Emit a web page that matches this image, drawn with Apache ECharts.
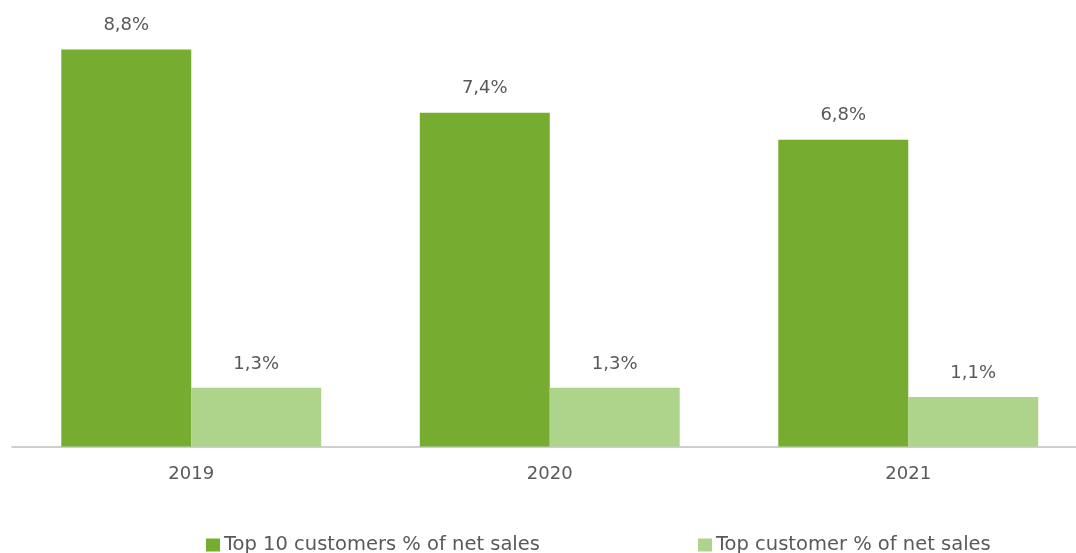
<!DOCTYPE html>
<html>
<head>
<meta charset="utf-8">
<script src="https://cdn.jsdelivr.net/npm/echarts@6/dist/echarts.min.js"></script>
<style>
  html, body { margin: 0; padding: 0; background: #ffffff; overflow: hidden; }
  /* the plot runs a little past the right edge of the page */
  #chart { width: 1088px; height: 553px; }
</style>
</head>
<body>
<div id="chart"></div>
<script>
// Customer concentration, share of net sales (%)
const years = ['2019', '2020', '2021'];
const top10Customers = [8.8, 7.4, 6.8];
const topCustomer = [1.3, 1.3, 1.1];
const seriesNames = ['Top 10 customers % of net sales', 'Top customer % of net sales'];

const FONT = '"DejaVu Sans", "Noto Sans", sans-serif';
const TEXT = '#595959';

const fmt = p => p.value.toFixed(1).replace('.', ',') + '%';

const legendBase = {
  top: 530,
  padding: [5, 0, 5, 0],
  icon: 'rect', itemWidth: 14, itemHeight: 13, itemGap: 6,
  textStyle: { color: TEXT, fontSize: 19.5, fontFamily: FONT, padding: [0, 0, 0, -1] }
};

const chart = echarts.init(document.getElementById('chart'));
chart.setOption({
  animation: false,
  textStyle: { fontFamily: FONT, color: TEXT },
  grid: { left: 12, right: 0.5, top: 40.5, bottom: 106.5, containLabel: false },
  xAxis: {
    type: 'category',
    data: years,
    axisLine: { lineStyle: { color: '#bfbfbf', width: 1.5 } },
    axisTick: { show: false },
    axisLabel: { color: TEXT, fontSize: 18, fontFamily: FONT, margin: 19 }
  },
  yAxis: {
    type: 'value',
    min: 0,
    max: 9,
    show: false,
    splitLine: { show: false }
  },
  legend: [
    Object.assign({ data: [seriesNames[0]], left: 206 }, legendBase),
    Object.assign({ data: [seriesNames[1]], left: 698 }, legendBase)
  ],
  series: [
    {
      name: seriesNames[0],
      type: 'bar',
      data: top10Customers,
      barGap: '0%',
      barCategoryGap: '27.5%',
      itemStyle: { color: '#76ac2f' },
      label: { show: true, position: 'top', distance: 15, color: TEXT, fontSize: 18, fontFamily: FONT, formatter: fmt }
    },
    {
      name: seriesNames[1],
      type: 'bar',
      data: topCustomer,
      barGap: '0%',
      barCategoryGap: '27.5%',
      itemStyle: { color: '#aed48c' },
      label: { show: true, position: 'top', distance: 15, color: TEXT, fontSize: 18, fontFamily: FONT, formatter: fmt }
    }
  ]
});
</script>
</body>
</html>
